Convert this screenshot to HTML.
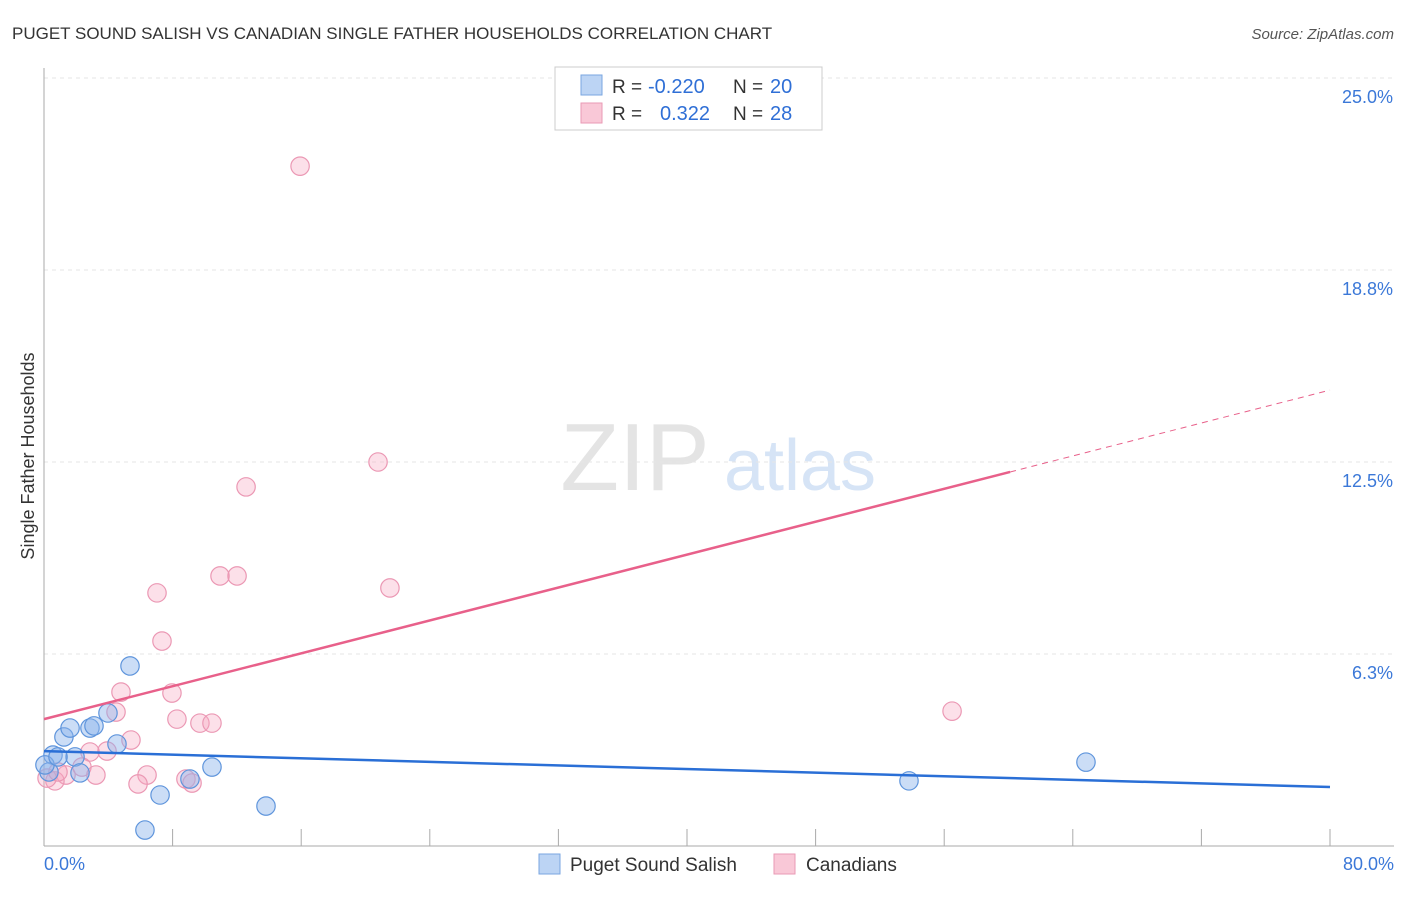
<!DOCTYPE html>
<html><head><meta charset="utf-8"><style>
body{margin:0;background:#fff;font-family:"Liberation Sans",sans-serif;}
svg text{font-family:"Liberation Sans",sans-serif;}
</style></head><body>
<svg id="c" width="1406" height="892" viewBox="0 0 1406 892">
<text x="12" y="39" font-size="17" fill="#333">PUGET SOUND SALISH VS CANADIAN SINGLE FATHER HOUSEHOLDS CORRELATION CHART</text>
<text x="1394" y="39" font-size="15" fill="#555" font-style="italic" text-anchor="end">Source: ZipAtlas.com</text>
<g>
<text x="635" y="490" font-size="96" fill="#e4e4e4" text-anchor="middle" font-family="Liberation Serif">ZIP</text>
<text x="800" y="490" font-size="72" fill="#d6e4f6" text-anchor="middle">atlas</text>
</g>
<g id="grid"></g>
<g id="axes"></g>
<g id="marks"></g>
<text transform="translate(34,456) rotate(-90)" font-size="18" fill="#333" text-anchor="middle">Single Father Households</text>
<g>
<rect x="555" y="67" width="267" height="63" fill="#fff" stroke="#ccc"/>
<rect x="581" y="75" width="21" height="20" fill="#bcd4f4" stroke="#7aa6e0"/>
<rect x="581" y="103" width="21" height="20" fill="#f9c8d7" stroke="#e99ab4"/>
<text x="612" y="93" font-size="19" fill="#333">R =</text>
<text x="648" y="93" font-size="20" fill="#2f6fd6">-0.220</text>
<text x="733" y="93" font-size="19" fill="#333">N =</text>
<text x="770" y="93" font-size="20" fill="#2f6fd6">20</text>
<text x="612" y="120" font-size="19" fill="#333">R =</text>
<text x="660" y="120" font-size="20" fill="#2f6fd6">0.322</text>
<text x="733" y="120" font-size="19" fill="#333">N =</text>
<text x="770" y="120" font-size="20" fill="#2f6fd6">28</text>
</g>
<g>
<rect x="539" y="854" width="21" height="20" fill="#bcd4f4" stroke="#7aa6e0"/>
<text x="570" y="871" font-size="19" fill="#333">Puget Sound Salish</text>
<rect x="774" y="854" width="21" height="20" fill="#f9c8d7" stroke="#e99ab4"/>
<text x="806" y="871" font-size="19" fill="#333">Canadians</text>
</g>
</svg>
<script>
const yTicks=[6.25,12.5,18.75,25];
const yTickLabels=["6.3%","12.5%","18.8%","25.0%"];
const xTicks=[0,8,16,24,32,40,48,56,64,72,80];
const xEndLabels=["0.0%","80.0%"];
const blueX=[0.56,0.31,1.24,1.62,1.93,2.24,2.86,3.11,3.98,4.54,5.35,7.22,6.28,9.08,10.45,13.81,53.81,64.82,0.06,0.87];
const blueY=[2.96,2.41,3.55,3.84,2.90,2.38,3.84,3.91,4.33,3.32,5.86,1.66,0.52,2.18,2.57,1.30,2.12,2.73,2.64,2.90];
const pinkX=[15.93,20.78,12.57,10.95,12.01,7.03,21.52,7.34,4.79,7.96,4.48,8.27,9.70,10.45,5.41,3.92,2.86,2.36,1.37,0.68,0.19,0.87,3.23,6.41,5.85,8.83,9.21,56.49];
const pinkY=[22.13,12.50,11.69,8.79,8.79,8.24,8.40,6.67,5.01,4.98,4.36,4.13,4.00,4.00,3.45,3.09,3.06,2.57,2.31,2.12,2.21,2.41,2.31,2.31,2.02,2.18,2.05,4.39];
const blueTrend=[3.09,1.92];
const pinkTrend=[4.13,14.84];
const pinkSolidEnd=60.1;
const NS="http://www.w3.org/2000/svg";
const X=v=>44+v/80*1286;
const Y=v=>846-v/6.25*192;
function mk(tag,attrs,parent){const e=document.createElementNS(NS,tag);for(const k in attrs)e.setAttribute(k,attrs[k]);parent.appendChild(e);return e;}
const grid=document.getElementById('grid'),axes=document.getElementById('axes'),marks=document.getElementById('marks');
yTicks.forEach((t,i)=>{
 const l=mk('line',{x1:44,x2:1394,y1:Y(t),y2:Y(t),stroke:'#e6e6e6','stroke-dasharray':'4 4'},grid);
 
 
 const tx=mk('text',{x:1393,y:Y(t)+25,'font-size':18,fill:'#3b78d8','text-anchor':'end'},axes);
 tx.textContent=yTickLabels[i];
 
 
});
const ya=mk('line',{x1:44,x2:44,y1:68,y2:846,stroke:'#aaa'},axes);


const xa=mk('line',{x1:44,x2:1394,y1:846,y2:846,stroke:'#aaa'},axes);


xTicks.forEach(t=>{
 const l=mk('line',{x1:X(t),x2:X(t),y1:829,y2:846,stroke:'#aaa'},axes);
 
 
});
const xl0=mk('text',{x:44,y:870,'font-size':18,fill:'#3b78d8'},axes);xl0.textContent=xEndLabels[0];


const xl1=mk('text',{x:1394,y:870,'font-size':18,fill:'#3b78d8','text-anchor':'end'},axes);xl1.textContent=xEndLabels[1];


pinkX.forEach((x,i)=>{
 const c=mk('circle',{cx:X(x),cy:Y(pinkY[i]),r:9.2,fill:'rgba(245,165,192,0.35)',stroke:'#eb98b4','stroke-width':1.2},marks);
 
 
});
blueX.forEach((x,i)=>{
 const c=mk('circle',{cx:X(x),cy:Y(blueY[i]),r:9.2,fill:'rgba(140,180,235,0.45)',stroke:'#5f95dc','stroke-width':1.2},marks);
 
 
});
const pAt=x=>pinkTrend[0]+(pinkTrend[1]-pinkTrend[0])*x/80;
const ps=mk('line',{x1:X(0),y1:Y(pAt(0)),x2:X(pinkSolidEnd),y2:Y(pAt(pinkSolidEnd)),stroke:'#e8608a','stroke-width':2.5},marks);


const pd=mk('line',{x1:X(pinkSolidEnd),y1:Y(pAt(pinkSolidEnd)),x2:X(80),y2:Y(pAt(80)),stroke:'#e8608a','stroke-width':1,'stroke-dasharray':'6 5'},marks);


const bl=mk('line',{x1:X(0),y1:Y(blueTrend[0]),x2:X(80),y2:Y(blueTrend[1]),stroke:'#2a6fd6','stroke-width':2.5},marks);


</script>
</body></html>
